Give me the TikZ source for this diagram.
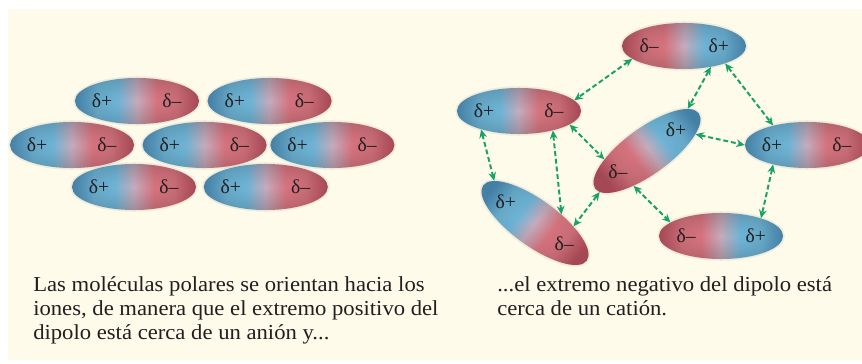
\documentclass[tikz,border=0pt]{standalone}
\usepackage{fontspec}
\setmainfont{Liberation Serif}
\newfontfamily\piefont[FakeStretch=1.06]{Liberation Serif}
\usepackage{xcolor}
\usepackage{tikz}
\usetikzlibrary{shapes.geometric, positioning, arrows.meta, calc, fadings}

\definecolor{fondo}{RGB}{254,251,234}
\definecolor{azulDip}{RGB}{84,156,202}
\definecolor{azulClaro}{RGB}{116,190,226}
\definecolor{medio}{RGB}{198,172,188}
\definecolor{rojoClaro}{RGB}{226,122,134}
\definecolor{rojoDip}{RGB}{202,88,104}
\definecolor{verdeFlecha}{RGB}{24,162,102}
\definecolor{texto}{RGB}{35,31,32}

% azul a la izquierda, rojo a la derecha
\pgfdeclarehorizontalshading{dipolo}{100bp}{color(0bp)=(azulDip); color(25bp)=(azulDip);
  color(34bp)=(azulClaro); color(42bp)=(azulClaro); color(50bp)=(medio);
  color(58bp)=(rojoClaro); color(66bp)=(rojoClaro); color(75bp)=(rojoDip); color(100bp)=(rojoDip)}
\tikzfading[name=borde, inner color=transparent!100, outer color=transparent!82]

% cargas parciales de una molecula
\newcommand{\cargas}[3]{%
  \node[carga] (#1-a) at ($(#1.center)!0.56!(#1.west)$) {#2};
  \node[carga] (#1-b) at ($(#1.center)!0.56!(#1.east)$) {#3};
}

\begin{document}
\begin{tikzpicture}[
    x=0.025cm, y=0.025cm,
    dipolo/.style={ellipse, inner sep=0pt, minimum width=3.1cm, minimum height=1.15cm,
      preaction={draw=black, draw opacity=0.06, line width=2.5pt},
      shade, shading=dipolo, postaction={fill=black, path fading=borde}},
    carga/.style={inner sep=0pt, text=texto, font=\fontsize{14}{16}\selectfont},
    enlace/.style={{Stealth[length=6pt, width=5.5pt]}-{Stealth[length=6pt, width=5.5pt]},
      verdeFlecha, line width=1.4pt, dash pattern=on 3.5pt off 2pt},
    pie/.style={anchor=north west, inner sep=0pt, align=left, text=texto,
      font=\piefont\fontsize{15.2}{17.2}\selectfont}
  ]
  \useasboundingbox (0,0) rectangle (862,363);
  \fill[fondo] (8,3) rectangle (862,354);

  % --- Moleculas ordenadas (izquierda) ---
  \node[dipolo] (izq1) at (137,262) {};
  \node[dipolo, right=0.2cm of izq1] (izq2) {};
  \node[dipolo] (izq3) at (72,218) {};
  \node[dipolo, right=0.2cm of izq3] (izq4) {};
  \node[dipolo, right=0.08cm of izq4] (izq5) {};
  \node[dipolo] (izq6) at (134,176) {};
  \node[dipolo, right=0.18cm of izq6] (izq7) {};
  \cargas{izq1}{δ+}{δ–}
  \cargas{izq2}{δ+}{δ–}
  \cargas{izq3}{δ+}{δ–}
  \cargas{izq4}{δ+}{δ–}
  \cargas{izq5}{δ+}{δ–}
  \cargas{izq6}{δ+}{δ–}
  \cargas{izq7}{δ+}{δ–}

  % --- Moleculas desordenadas (derecha) ---
  \node[dipolo, shading angle=180] (molArriba) at (684,317) {};
  \node[dipolo] (molIzq) at (519,252) {};
  \node[dipolo, minimum width=3.2cm, rotate=36, shading angle=216] (molCentro) at (647,212) {};
  \node[dipolo] (molDer) at (807,218) {};
  \node[dipolo, minimum width=3.2cm, rotate=-36, shading angle=-36] (molAbajoIzq) at (535,140) {};
  \node[dipolo, shading angle=180] (molAbajoDer) at (721,127) {};
  \cargas{molArriba}{δ–}{δ+}
  \cargas{molIzq}{δ+}{δ–}
  \cargas{molCentro}{δ–}{δ+}
  \cargas{molDer}{δ+}{δ–}
  \cargas{molAbajoIzq}{δ+}{δ–}
  \cargas{molAbajoDer}{δ–}{δ+}

  % atracciones dipolo-dipolo
  \draw[enlace] (molArriba.194) -- (molIzq.11);
  \draw[enlace] (molArriba.322) -- (molCentro.10);
  \draw[enlace] (molArriba.337) -- (molDer.150);
  \draw[enlace] (molIzq.345) -- (molCentro.155);
  \draw[enlace] (molIzq.206) -- (molAbajoIzq.170);
  \draw[enlace] (molIzq.330) -- (molAbajoIzq.54);
  \draw[enlace] (molCentro.185) -- (molAbajoIzq.31);
  \draw[enlace] (molCentro.343) -- (molDer.180);
  \draw[enlace] (molCentro.213) -- (molAbajoDer.165);
  \draw[enlace] (molDer.210) -- (molAbajoDer.24);

  % --- Textos ---
  \node[pie] (pieIzq) at (33,87) {Las moléculas polares se orientan hacia los\\
    iones, de manera que el extremo positivo del\\dipolo está cerca de un anión y...};
  \node[pie] (pieDer) at (497,87) {...el extremo negativo del dipolo está\\cerca de un catión.};
\end{tikzpicture}
\end{document}
